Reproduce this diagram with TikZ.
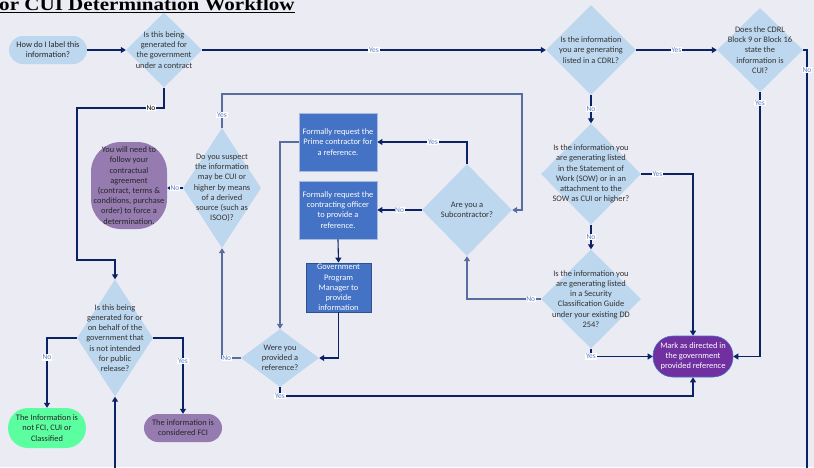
\documentclass[tikz,border=0pt]{standalone}
\usepackage{fontspec}
\setmainfont{Carlito}
\newfontfamily\titlefont{Liberation Serif}
\usepackage{tikz}
\usetikzlibrary{arrows.meta,shapes.geometric}
\definecolor{bgcol}{HTML}{EBEBF4}
\definecolor{qfill}{HTML}{BDD7EE}
\definecolor{qtextcol}{HTML}{333333}
\definecolor{boxfill}{HTML}{4472C4}
\definecolor{boxline}{HTML}{A9BADF}
\definecolor{boxdark}{HTML}{2F528F}
\definecolor{navy}{HTML}{0C2266}
\definecolor{slate}{HTML}{5A6DA0}
\definecolor{labcol}{HTML}{5B7FC9}
\definecolor{markfill}{HTML}{7030A0}
\definecolor{fcifill}{HTML}{957BB0}
\definecolor{okfill}{HTML}{5CFFA0}

\begin{document}
\begin{tikzpicture}[x=1pt,y=-1pt,
    every node/.style={font=\fontsize{8.4}{10.2}\selectfont, align=center},
    dia/.style={diamond, fill=qfill, inner sep=0pt},
    qtext/.style={text=qtextcol, inner sep=0pt},
    stepbox/.style={rectangle, fill=boxfill, draw=boxline, line width=0.8pt, text=white, inner sep=0pt},
    pill/.style={rectangle, rounded corners=#1, inner sep=0pt, text=black!85},
    link/.style={draw=navy, line width=1.1pt},
    arr/.style={link, -{Triangle[length=5pt,width=6pt]}},
    lab/.style={fill=white, text=labcol, inner sep=0.7pt, font=\fontsize{7.5}{7.5}\selectfont}]
        %%Background
        \path[use as bounding box, fill=bgcol] (0,0) rectangle (814,467);
        %%Title
        \node[anchor=base west, inner sep=0pt, xscale=1.17, transform shape, font=\titlefont\bfseries\fontsize{18}{18}\selectfont] (title) at (-1,10.5) {or CUI Determination Workflow};
        \draw[line width=1.3pt] ([yshift=-2.2pt]title.base west) -- ([yshift=-2.2pt]title.base east);
        %%Start
        \node[pill=14pt, fill=qfill, minimum width=78, minimum height=28] (start) at (48,50) {How do I label this\\information?};
        %%Questions
        \node[dia, minimum width=76, minimum height=75, label={[qtext]center:Is this being\\generated for\\the government\\under a contract}] (gov) at (164,50) {};
        \node[dia, minimum width=90, minimum height=90, label={[qtext]center:Is the information\\you are generating\\listed in a CDRL?}] (cdrl) at (591,50) {};
        \node[dia, minimum width=86, minimum height=84, label={[qtext]center:Does the CDRL\\Block 9 or Block 16\\state the\\information is\\CUI?}] (blk) at (760,50) {};
        \node[dia, minimum width=100, minimum height=101, label={[qtext]center:Is the information you\\are generating listed\\in the Statement of\\Work (SOW) or in an\\attachment to the\\SOW as CUI or higher?}] (sow) at (591,174) {};
        \node[dia, minimum width=100, minimum height=99, label={[qtext]center:Is the information you\\are generating listed\\in a Security\\Classification Guide\\under your existing DD\\254?}] (scg) at (591,299) {};
        \node[dia, minimum width=90, minimum height=92, label={[qtext]center:Are you a\\Subcontractor?}] (sub) at (467,210) {};
        \node[dia, minimum width=78, minimum height=120, label={[qtext]center:Do you suspect\\the information\\may be CUI or\\higher by means\\of a derived\\source (such as\\ISOO)?}] (deriv) at (222,188) {};
        \node[dia, minimum width=78, minimum height=58, label={[qtext]center:Were you\\provided a\\reference?}] (were) at (280,358) {};
        \node[dia, minimum width=76, minimum height=117, label={[qtext]center:Is this being\\generated for or\\on behalf of the\\government that\\is not intended\\for public\\release?}] (pub) at (115,338) {};
        %%Requests
        \node[stepbox, minimum width=78, minimum height=58] (box1) at (338,142) {Formally request the\\Prime contractor for\\a reference.};
        \node[stepbox, minimum width=78, minimum height=58] (box2) at (338,210) {Formally request the\\contracting officer\\to provide a\\reference.};
        \node[stepbox, draw=boxdark, minimum width=65, minimum height=49] (box3) at (338.5,287.5) {Government\\Program\\Manager to\\provide\\information};
        %%Outcomes
        \node[pill=20pt, fill=markfill, draw=boxfill, line width=0.6pt, text=white, minimum width=80, minimum height=41] (mark) at (693,356.5) {Mark as directed in\\the government\\provided reference};
        \node[pill=20pt, fill=okfill, minimum width=78, minimum height=40] (ok) at (47,428) {The Information is\\not FCI, CUI or\\Classified};
        \node[pill=14pt, fill=fcifill, minimum width=78, minimum height=28] (fci) at (183,428) {The information is\\considered FCI};
        \node[pill=30pt, fill=fcifill, minimum width=76, minimum height=87] (oval) at (129,185.5) {You will need to\\follow your\\contractual\\agreement\\(contract, terms \&\\conditions, purchase\\order) to force a\\determination.};
        %%Free ends
        \coordinate (offr) at (807,470);
        \coordinate (offb) at (115,470);
        \coordinate (nob) at (77,108);
        \coordinate (noc) at (77,260);
        \coordinate (loopc) at (522,94);
        \coordinate (yesrow) at (0,396);
        %%Connectors
        \draw[arr] (start.east) -- (gov.west);
        \draw[arr] (gov.east) -- (cdrl.west) node[lab, midway] {Yes};
        \draw[arr] (cdrl.east) -- (blk.west) node[lab, midway] {Yes};
        \draw[link] (blk.east) -| (offr) node[lab, pos=0.524] {No};
        \draw[arr] (blk.south) |- (mark.east) node[lab, pos=0.021] {Yes};
        \draw[arr] (cdrl.south) -- (sow.north) node[lab, midway] {No};
        \draw[arr] (sow.east) -| (mark.north) node[lab, pos=0.157] {Yes};
        \draw[arr] (sow.south) -- (scg.north) node[lab, midway] {No};
        \draw[arr] (scg.south) |- (mark.west) node[lab, pos=0.5] {Yes};
        \draw[arr, draw=slate] (scg.west) -| (sub.south) node[lab, pos=0.068] {No};
        \draw[arr] (sub.north) |- (box1.east) node[lab, pos=0.69] {Yes};
        \draw[arr] (sub.west) -- (box2.east) node[lab, midway] {No};
        \draw[arr] (box2.south) -- (box3.north);
        \draw[arr] (box3.south) |- (were.east);
        \draw[arr, draw=slate] (box1.west) -| (were.north);
        \draw[arr] (were.south) |- (mark.south |- yesrow) node[lab, pos=0.5] {Yes} -- (mark.south);
        \draw[arr, draw=slate] (were.west) -| (deriv.south) node[lab, pos=0.375] {No};
        \draw[arr, draw=slate] (deriv.north) |- (loopc) node[lab, pos=0.19] {Yes} |- (sub.east);
        \draw[arr] (deriv.west) -- (oval.east |- deriv.west) node[lab, midway] {No};
        \draw[arr] (gov.south) |- (nob) node[lab, text=black, pos=0.575] {No} -- (noc) -| (pub.north);
        \draw[arr] (pub.west) -| (ok.north) node[lab, pos=0.64] {No};
        \draw[arr] (pub.east) -| (fci.north) node[lab, pos=0.65] {Yes};
        \draw[arr] (offb) -- (pub.south);
    \end{tikzpicture}
\end{document}
